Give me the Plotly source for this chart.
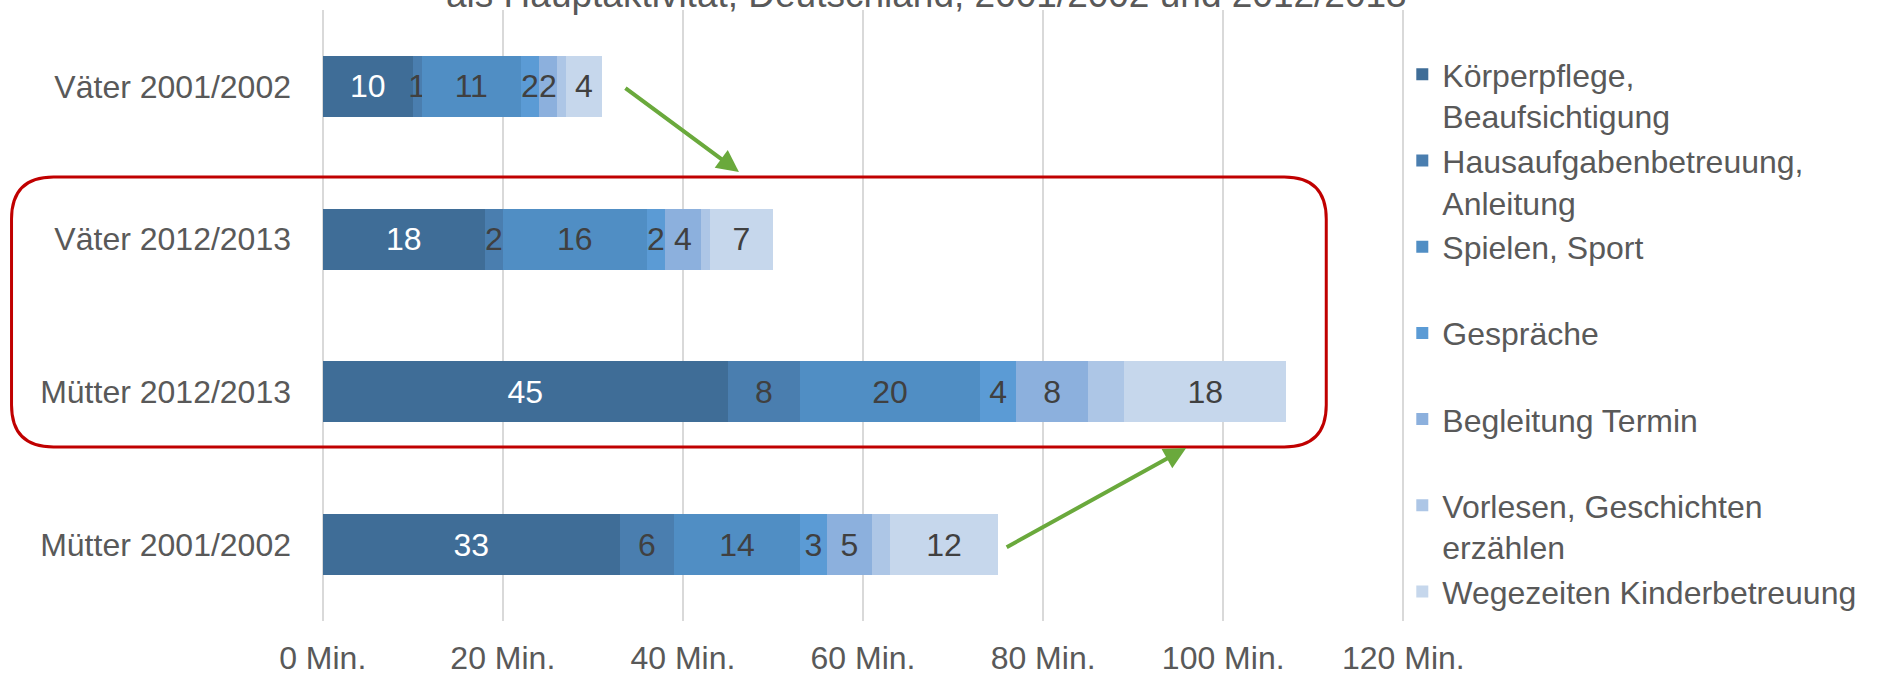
import plotly.graph_objects as go

categories = ["Väter 2001/2002", "Väter 2012/2013", "Mütter 2012/2013", "Mütter 2001/2002"]
series_names = [
    "Körperpflege,<br>Beaufsichtigung",
    "Hausaufgabenbetreuung,<br>Anleitung",
    "Spielen, Sport<br> ",
    "Gespräche<br> ",
    "Begleitung Termin<br> ",
    "Vorlesen, Geschichten<br>erzählen",
    "Wegezeiten Kinderbetreuung",
]
koerperpflege = [10, 18, 45, 33]
hausaufgaben = [1, 2, 8, 6]
spielen = [11, 16, 20, 14]
gespraeche = [2, 2, 4, 3]
begleitung = [2, 4, 8, 5]
vorlesen = [1, 1, 4, 2]
wegezeiten = [4, 7, 18, 12]
series_values = [koerperpflege, hausaufgaben, spielen, gespraeche, begleitung, vorlesen, wegezeiten]
show_labels = [True, True, True, True, True, False, True]
tick_values = [0, 20, 40, 60, 80, 100, 120]
tick_labels = [f"{v} Min." for v in tick_values]
title_text = "als Hauptaktivität, Deutschland, 2001/2002 und 2012/2013"

colors = ["#3F6D97", "#4A7EAF", "#508EC4", "#5B9BD5", "#8CB0DD", "#ADC6E6", "#C6D7EC"]
text_colors = ["#FFFFFF"] + ["#404040"] * 6
FONT = "Liberation Sans, Arial, sans-serif"
GRAY = "#595959"

W, H = 1888, 675
XMIN, XMAX = -0.3, 120.3
PX_PER_MIN = 9.0
ML = 323 + XMIN * PX_PER_MIN
PW = (XMAX - XMIN) * PX_PER_MIN
MR = W - ML - PW
MT, MB = 10, 54
PH = H - MT - MB


def px(xp):
    return (xp - ML) / PW


def py(yp):
    return 1 - (yp - MT) / PH


fig = go.Figure()
for name, vals, col, tcol, lab in zip(series_names, series_values, colors, text_colors, show_labels):
    fig.add_trace(go.Bar(
        y=categories, x=vals, orientation="h", name=name,
        marker=dict(color=col, line=dict(width=0)),
        text=[str(v) for v in vals] if lab else None,
        textposition="inside" if lab else "none",
        insidetextanchor="middle", textangle=0,
        textfont=dict(color=tcol, size=32, family=FONT),
    ))


def rounded_rect(x0, y0, x1, y1, r):
    rx, ry = r / PW, r / PH
    X0, X1, Y0, Y1 = px(x0), px(x1), py(y0), py(y1)
    return (f"M {X0+rx},{Y0} L {X1-rx},{Y0} Q {X1},{Y0} {X1},{Y0-ry} "
            f"L {X1},{Y1+ry} Q {X1},{Y1} {X1-rx},{Y1} "
            f"L {X0+rx},{Y1} Q {X0},{Y1} {X0},{Y1+ry} "
            f"L {X0},{Y0-ry} Q {X0},{Y0} {X0+rx},{Y0} Z")


fig.add_shape(type="path", xref="paper", yref="paper",
              path=rounded_rect(12, 177, 1326, 447, 42),
              line=dict(color="#C00000", width=3), fillcolor="rgba(0,0,0,0)", layer="above")

for tip, tail in [((739, 172), (624, 87)), ((1186, 448), (1005, 548))]:
    fig.add_annotation(xref="paper", yref="paper", x=px(tip[0]), y=py(tip[1]),
                       ax=tail[0] - tip[0], ay=tail[1] - tip[1], axref="pixel", ayref="pixel",
                       showarrow=True, arrowhead=2, arrowsize=1.1, arrowwidth=4,
                       arrowcolor="#6AA93C", text="")

fig.add_annotation(xref="paper", yref="paper", x=px(926), y=py(-5), text=title_text,
                   showarrow=False, xanchor="center", yanchor="middle",
                   font=dict(size=37, color=GRAY, family=FONT))

fig.update_layout(
    width=W, height=H, barmode="stack", bargap=0.6,
    margin=dict(l=ML, r=MR, t=MT, b=MB, autoexpand=False),
    plot_bgcolor="white", paper_bgcolor="white",
    font=dict(family=FONT, size=32, color=GRAY),
    uniformtext=dict(minsize=32, mode="show"),
    showlegend=True,
    legend=dict(x=px(1402), xanchor="left", y=py(47), yanchor="top", traceorder="normal",
                valign="top", font=dict(size=32, color=GRAY, family=FONT),
                bgcolor="rgba(0,0,0,0)", tracegroupgap=0),
)
fig.update_xaxes(range=[XMIN, XMAX], tickvals=tick_values, ticktext=tick_labels,
                 showgrid=True, gridcolor="#D9D9D9", gridwidth=2, zeroline=False,
                 showline=False, ticks="", ticklabelstandoff=15, automargin=False,
                 tickfont=dict(size=32, color=GRAY, family=FONT))
fig.update_yaxes(autorange="reversed", showgrid=False, showline=False, zeroline=False,
                 ticks="", ticklabelstandoff=28, automargin=False,
                 tickfont=dict(size=32, color=GRAY, family=FONT))

fig.write_html("out.html", config={"displayModeBar": False},
               post_script="document.body.style.margin='0';document.body.style.padding='0';")
